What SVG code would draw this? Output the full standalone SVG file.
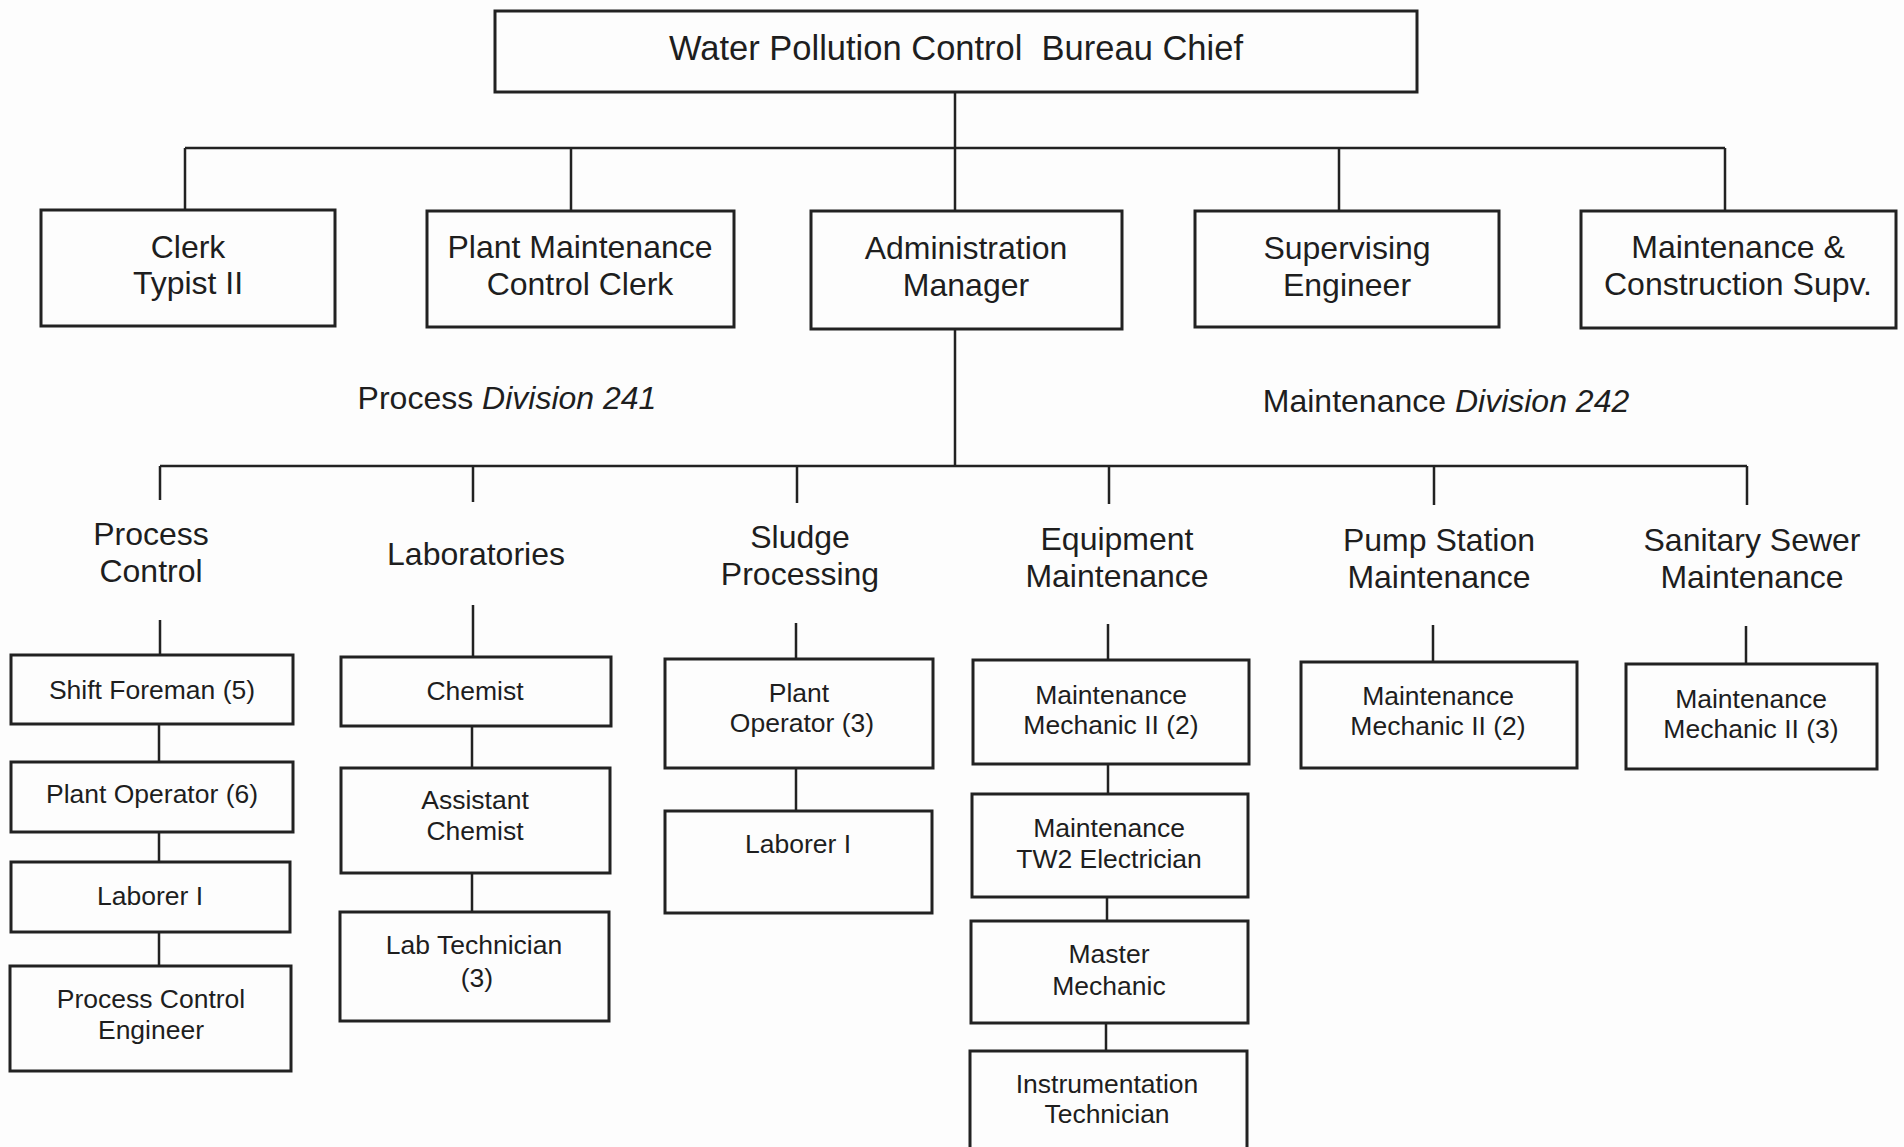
<svg xmlns="http://www.w3.org/2000/svg" width="1904" height="1147" viewBox="0 0 1904 1147">
  <style>
    .box { fill: none; stroke: #222; stroke-width: 3; }
    .link { fill: none; stroke: #222; stroke-width: 2.5; }
    text { font-family: "Liberation Sans", Arial, sans-serif; fill: #1e1e1e; text-anchor: middle; }
    .t0 { font-size: 34.5px; }
    .t1 { font-size: 32px; }
    .t2 { font-size: 26.5px; }
    .it { font-style: italic; }
  </style>
  <rect width="1904" height="1147" fill="#fdfdfd"/>

  <!-- connectors -->
  <g id="connectors">
    <path class="link" d="M955 92 V148 M185 148 H1725 M185 148 V210 M571 148 V211 M955 148 V211 M1339 148 V211 M1725 148 V211"/>
    <path class="link" d="M955 329 V466 M160 466 H1747 M160 466 V500 M473 466 V502 M797 466 V503 M1109 466 V504 M1434 466 V505 M1747 466 V505"/>
    <path class="link" d="M160 620 V655 M473 605 V657 M796 623 V659 M1108 624 V660 M1433 625 V662 M1746 626 V664"/>
    <path class="link" d="M159 724 V762 M159 832 V862 M159 932 V966"/>
    <path class="link" d="M472 726 V768 M472 873 V912"/>
    <path class="link" d="M796 768 V811"/>
    <path class="link" d="M1108 764 V794 M1107 897 V921 M1106 1023 V1051"/>
  </g>

  <!-- top -->
  <g id="bureau-chief">
    <rect class="box" x="495" y="11" width="922" height="81"/>
    <text class="t0" x="956" y="60" xml:space="preserve">Water Pollution Control  Bureau Chief</text>
  </g>

  <!-- second row -->
  <g id="clerk-typist">
    <rect class="box" x="41" y="210" width="294" height="116"/>
    <text class="t1" x="188" y="258">Clerk</text>
    <text class="t1" x="188" y="294">Typist II</text>
  </g>
  <g id="pm-control-clerk">
    <rect class="box" x="427" y="211" width="307" height="116"/>
    <text class="t1" x="580" y="258">Plant Maintenance</text>
    <text class="t1" x="580" y="295">Control Clerk</text>
  </g>
  <g id="admin-manager">
    <rect class="box" x="811" y="211" width="311" height="118"/>
    <text class="t1" x="966" y="259">Administration</text>
    <text class="t1" x="966" y="296">Manager</text>
  </g>
  <g id="supervising-engineer">
    <rect class="box" x="1195" y="211" width="304" height="116"/>
    <text class="t1" x="1347" y="259">Supervising</text>
    <text class="t1" x="1347" y="296">Engineer</text>
  </g>
  <g id="mc-supv">
    <rect class="box" x="1581" y="211" width="315" height="117"/>
    <text class="t1" x="1738" y="258">Maintenance &amp;</text>
    <text class="t1" x="1738" y="295">Construction Supv.</text>
  </g>

  <!-- division labels -->
  <g id="division-241">
    <text class="t1" x="507" y="409">Process <tspan class="it">Division 241</tspan></text>
  </g>
  <g id="division-242">
    <text class="t1" x="1446" y="412">Maintenance <tspan class="it">Division 242</tspan></text>
  </g>

  <!-- section headings -->
  <g id="process-control">
    <text class="t1" x="151" y="545">Process</text>
    <text class="t1" x="151" y="582">Control</text>
  </g>
  <g id="laboratories">
    <text class="t1" x="476" y="565">Laboratories</text>
  </g>
  <g id="sludge-processing">
    <text class="t1" x="800" y="548">Sludge</text>
    <text class="t1" x="800" y="585">Processing</text>
  </g>
  <g id="equipment-maintenance">
    <text class="t1" x="1117" y="550">Equipment</text>
    <text class="t1" x="1117" y="587">Maintenance</text>
  </g>
  <g id="pump-station-maintenance">
    <text class="t1" x="1439" y="551">Pump Station</text>
    <text class="t1" x="1439" y="588">Maintenance</text>
  </g>
  <g id="sanitary-sewer-maintenance">
    <text class="t1" x="1752" y="551">Sanitary Sewer</text>
    <text class="t1" x="1752" y="588">Maintenance</text>
  </g>

  <!-- process control column -->
  <g id="shift-foreman">
    <rect class="box" x="11" y="655" width="282" height="69"/>
    <text class="t2" x="152" y="699">Shift Foreman (5)</text>
  </g>
  <g id="plant-operator-6">
    <rect class="box" x="11" y="762" width="282" height="70"/>
    <text class="t2" x="152" y="803">Plant Operator (6)</text>
  </g>
  <g id="laborer-pc">
    <rect class="box" x="11" y="862" width="279" height="70"/>
    <text class="t2" x="150" y="905">Laborer I</text>
  </g>
  <g id="pc-engineer">
    <rect class="box" x="10" y="966" width="281" height="105"/>
    <text class="t2" x="151" y="1008">Process Control</text>
    <text class="t2" x="151" y="1039">Engineer</text>
  </g>

  <!-- laboratories column -->
  <g id="chemist">
    <rect class="box" x="341" y="657" width="270" height="69"/>
    <text class="t2" x="475" y="700">Chemist</text>
  </g>
  <g id="assistant-chemist">
    <rect class="box" x="341" y="768" width="269" height="105"/>
    <text class="t2" x="475" y="809">Assistant</text>
    <text class="t2" x="475" y="840">Chemist</text>
  </g>
  <g id="lab-technician">
    <rect class="box" x="340" y="912" width="269" height="109"/>
    <text class="t2" x="474" y="954">Lab Technician</text>
    <text class="t2" x="477" y="987">(3)</text>
  </g>

  <!-- sludge column -->
  <g id="plant-operator-3">
    <rect class="box" x="665" y="659" width="268" height="109"/>
    <text class="t2" x="799" y="702">Plant</text>
    <text class="t2" x="802" y="732">Operator (3)</text>
  </g>
  <g id="laborer-sludge">
    <rect class="box" x="665" y="811" width="267" height="102"/>
    <text class="t2" x="798" y="853">Laborer I</text>
  </g>

  <!-- equipment maintenance column -->
  <g id="mech-2-equipment">
    <rect class="box" x="973" y="660" width="276" height="104"/>
    <text class="t2" x="1111" y="704">Maintenance</text>
    <text class="t2" x="1111" y="734">Mechanic II (2)</text>
  </g>
  <g id="tw2-electrician">
    <rect class="box" x="972" y="794" width="276" height="103"/>
    <text class="t2" x="1109" y="837">Maintenance</text>
    <text class="t2" x="1109" y="868">TW2 Electrician</text>
  </g>
  <g id="master-mechanic">
    <rect class="box" x="971" y="921" width="277" height="102"/>
    <text class="t2" x="1109" y="963">Master</text>
    <text class="t2" x="1109" y="995">Mechanic</text>
  </g>
  <g id="instrumentation-technician">
    <rect class="box" x="970" y="1051" width="277" height="110"/>
    <text class="t2" x="1107" y="1093">Instrumentation</text>
    <text class="t2" x="1107" y="1123">Technician</text>
  </g>

  <!-- pump station column -->
  <g id="mech-2-pump">
    <rect class="box" x="1301" y="662" width="276" height="106"/>
    <text class="t2" x="1438" y="705">Maintenance</text>
    <text class="t2" x="1438" y="735">Mechanic II (2)</text>
  </g>

  <!-- sanitary sewer column -->
  <g id="mech-2-sewer">
    <rect class="box" x="1626" y="664" width="251" height="105"/>
    <text class="t2" x="1751" y="708">Maintenance</text>
    <text class="t2" x="1751" y="738">Mechanic II (3)</text>
  </g>
</svg>
